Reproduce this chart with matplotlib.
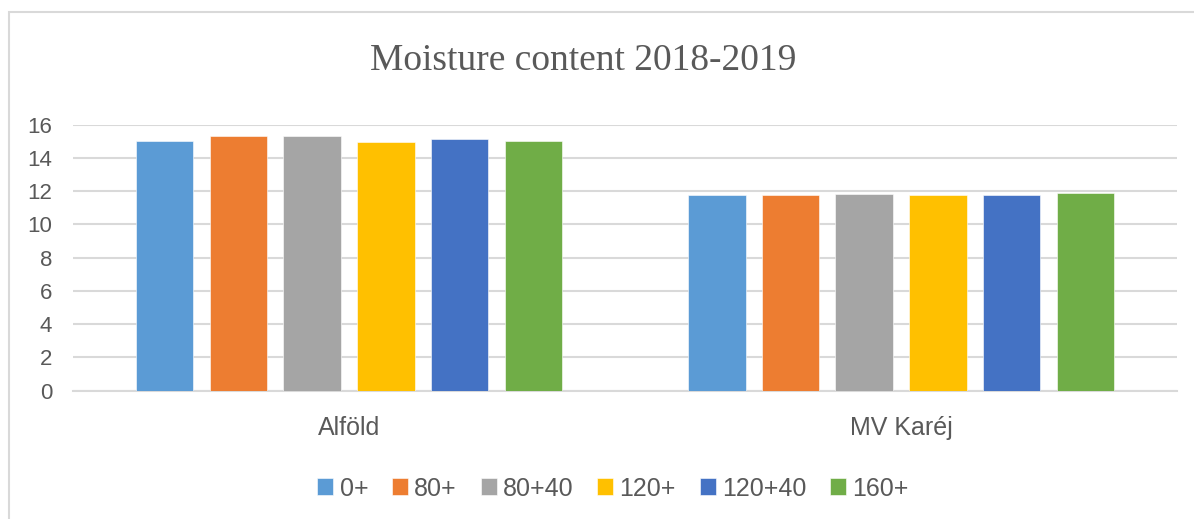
import matplotlib
matplotlib.use("Agg")
import matplotlib.pyplot as plt
import numpy as np
from matplotlib.patches import Rectangle

categories = ["Alföld", "MV Karéj"]
series_names = ["0+", "80+", "80+40", "120+", "120+40", "160+"]
values_0 = [15.0, 11.76]
values_80 = [15.3, 11.76]
values_80_40 = [15.33, 11.84]
values_120 = [14.97, 11.8]
values_120_40 = [15.13, 11.76]
values_160 = [15.0, 11.88]
series_values = [values_0, values_80, values_80_40, values_120, values_120_40, values_160]
colors = ["#5B9BD5", "#ED7D31", "#A5A5A5", "#FFC000", "#4472C4", "#70AD47"]
yticks = [0, 2, 4, 6, 8, 10, 12, 14, 16]

W, H = 1194, 519
fig = plt.figure(figsize=(W / 100, H / 100), dpi=100)
ax = fig.add_axes([73 / W, 1 - 390.7 / H, (1177 - 73) / W, (390.7 - 124.7) / H])

text_color = "#595959"
grid_color = "#D9D9D9"
font = "Liberation Sans"

x = np.arange(len(categories))
slot = 73.7 / 552
bw = 57.5 / 552
for i, (name, vals, c) in enumerate(zip(series_names, series_values, colors)):
    ax.bar(x + (i - 2.5) * slot, vals, width=bw, color=c, label=name,
           edgecolor="white", linewidth=0.4, zorder=3)

ax.set_xlim(-0.5, 1.5)
ax.set_ylim(0, 16)
ax.set_yticks(yticks)
ax.set_yticklabels([str(t) for t in yticks], fontsize=16, color=text_color, family=font)
ax.set_xticks(x)
ax.set_xticklabels(categories, fontsize=18, color=text_color, family=font)
ax.tick_params(axis="y", length=0, pad=15)
ax.tick_params(axis="x", length=0, pad=18)
ax.yaxis.grid(True, color=grid_color, linewidth=1.5, zorder=0)
for s in ["top", "right", "left"]:
    ax.spines[s].set_visible(False)
ax.spines["bottom"].set_color(grid_color)
ax.spines["bottom"].set_linewidth(1.5)

fig.text(583 / W, 1 - 69.5 / H, "Moisture content 2018-2019", ha="center", va="baseline",
         fontsize=27, color=text_color, family="Liberation Serif")

leg = fig.legend(loc="center", bbox_to_anchor=(613 / W, 1 - 488.5 / H), ncol=6, frameon=False,
                 prop={"family": font, "size": 18}, handlelength=0.64, handleheight=0.64,
                 handletextpad=0.25, columnspacing=0.95)
for t in leg.get_texts():
    t.set_color(text_color)

border = Rectangle((9 / W, -0.1), 1.2, 1 - 12 / H + 0.1, transform=fig.transFigure,
                   fill=False, edgecolor="#D9D9D9", linewidth=1.5)
fig.patches.append(border)

fig.savefig("out.png", dpi=100)
